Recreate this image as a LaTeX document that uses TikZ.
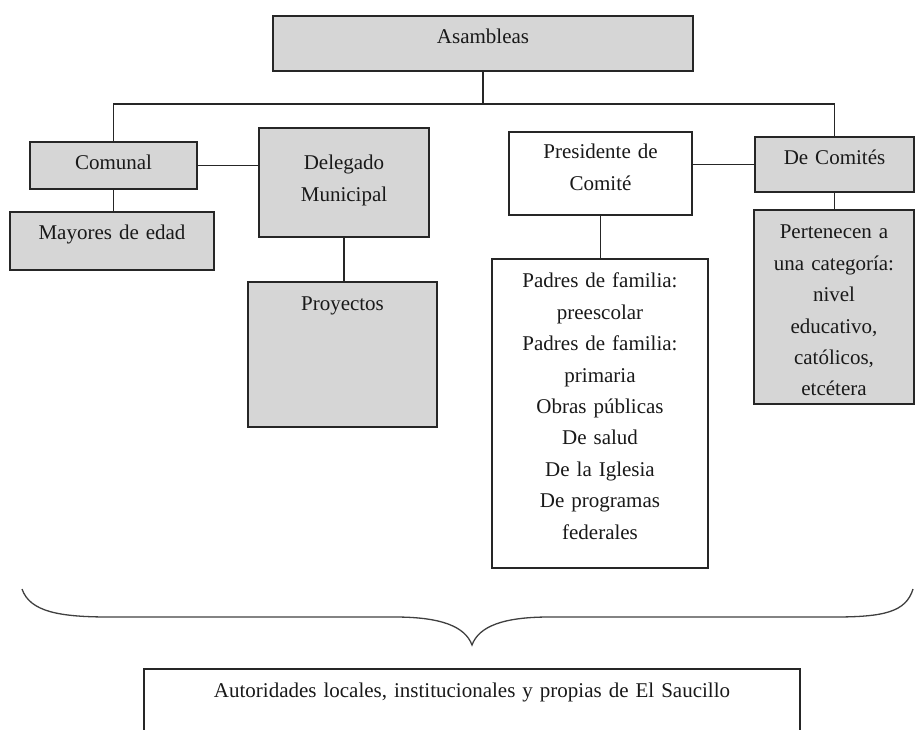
\documentclass[tikz,border=0pt]{standalone}
\usepackage{fontspec}
\setmainfont{Liberation Serif}
\usepackage{tikz}

\begin{document}
\begin{tikzpicture}[
  x=1pt, y=-1pt,
  caja/.style={draw=black!85, line width=1.8pt, inner sep=0pt, align=center,
    anchor=north, font=\fontsize{21}{31.4}\selectfont, text=black!90},
  gris/.style={caja, fill=black!16},
  blanca/.style={caja, fill=white},
  linea/.style={draw=black!85, line width=1.8pt},
  llave/.style={draw=black!75, line width=1.3pt}
]
  \useasboundingbox (0,0) rectangle (917,729);
  \clip (0,0) rectangle (917,729);

  % Asambleas y barra principal
  \node[gris, text width=420pt, text height=28pt, text depth=27pt] (asam) at (483,15) {Asambleas};
  \coordinate (barra) at (483,104);

  % Rama izquierda
  \node[gris, text width=167pt, text height=28pt, text depth=19pt] (comunal) at (113.5,141) {Comunal};
  \node[gris, text width=204pt, text height=28pt, text depth=30pt] (mayores) at (112,211) {Mayores de edad};
  \node[gris, text width=170pt, text height=42pt, text depth=67pt] (delegado) at (344,127) {Delegado\\ Municipal};
  \node[gris, text width=189pt, text height=29pt, text depth=116pt] (proyectos) at (342.5,281) {Proyectos};

  % Rama derecha
  \node[blanca, text width=183pt, text height=27pt, text depth=56pt] (presidente) at (600.5,131) {Presidente de\\ Comité};
  \node[blanca, text width=216pt, text height=29pt, text depth=280pt] (padres) at (600,258)
    {Padres de familia:\\ preescolar\\ Padres de familia:\\ primaria\\ Obras públicas\\ De salud\\ De la Iglesia\\ De programas\\ federales};
  \node[gris, text width=159pt, text height=28pt, text depth=27pt] (comites) at (834.5,136) {De Comités};
  \node[gris, text width=160pt, text height=29pt, text depth=165pt] (pertenecen) at (834,209)
    {Pertenecen a\\ una categoría:\\ nivel\\ educativo,\\ católicos,\\ etcétera};

  % Conexiones
  \draw[linea] (asam) -- (barra);
  \draw[linea] (comunal.north) |- (barra) -| (comites.north);
  \draw[linea] (comunal.east) -- (comunal.east -| delegado.west);
  \draw[linea] (comunal.south) -- (comunal.south |- mayores.north);
  \draw[linea] (delegado.south) -- (delegado.south |- proyectos.north);
  \draw[linea] (comites.west -| presidente.east) -- (comites.west);
  \draw[linea] (presidente.south) -- (presidente.south |- padres.north);
  \draw[linea] (comites.south) -- (comites.south |- pertenecen.north);

  % Llave inferior
  \draw[llave] (22,589) .. controls (30,612) and (60,617) .. (110,617) -- (395,617)
    .. controls (440,617) and (465,626) .. (472,645)
    .. controls (479,626) and (504,617) .. (549,617) -- (834,617)
    .. controls (884,617) and (906,612) .. (913,589);

  % Caja final (cortada por el borde)
  \node[blanca, text width=656pt, text height=29pt, text depth=90pt] (autoridades) at (472,668)
    {Autoridades locales, institucionales y propias de El Saucillo};
\end{tikzpicture}
\end{document}
